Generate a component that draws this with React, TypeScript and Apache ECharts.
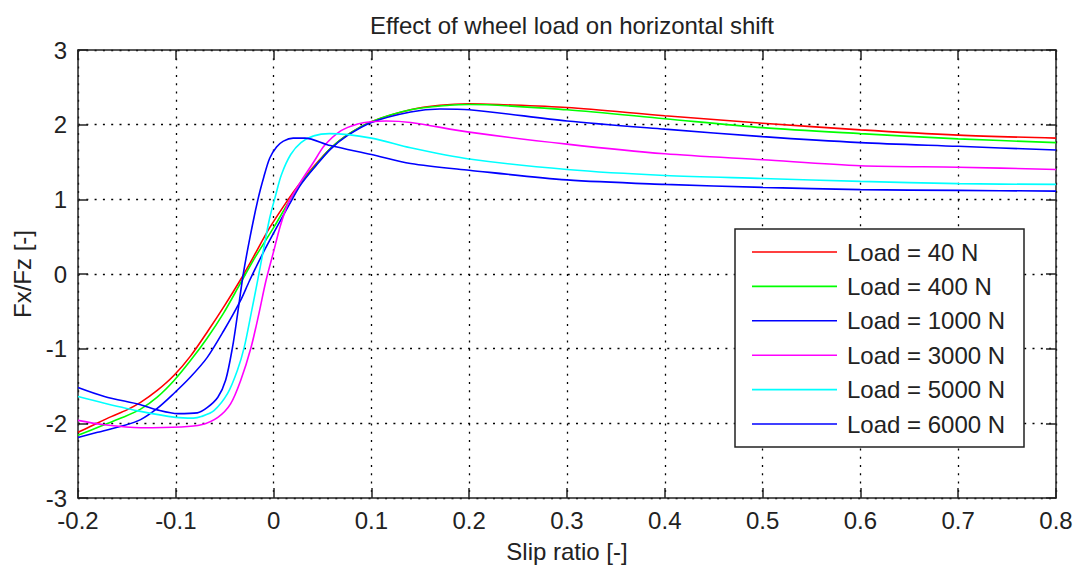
import React, { useEffect, useRef } from "react";
import * as echarts from "echarts";

// Slip ratio sample points and normalized longitudinal force Fx/Fz for each wheel load
const load40X = [-0.2, -0.187, -0.166, -0.15, -0.136, -0.119, -0.102, -0.085, -0.067, -0.05, -0.034, -0.021, -0.004, 0.015, 0.026, 0.041, 0.058, 0.075, 0.1, 0.14, 0.17, 0.2, 0.23, 0.3, 0.4, 0.5, 0.6, 0.7, 0.8];
const load40Y = [-2.12, -2.04, -1.91, -1.82, -1.72, -1.56, -1.36, -1.1, -0.76, -0.42, -0.08, 0.22, 0.62, 1.0, 1.2, 1.44, 1.68, 1.86, 2.04, 2.2, 2.26, 2.28, 2.27, 2.23, 2.12, 2.02, 1.93, 1.86, 1.82];

const load400X = [-0.2, -0.177, -0.156, -0.136, -0.119, -0.102, -0.085, -0.068, -0.051, -0.035, -0.02, 0.0, 0.017, 0.027, 0.042, 0.058, 0.075, 0.1, 0.14, 0.18, 0.2, 0.3, 0.4, 0.5, 0.6, 0.7, 0.8];
const load400Y = [-2.16, -2.04, -1.93, -1.81, -1.65, -1.43, -1.16, -0.86, -0.52, -0.15, 0.2, 0.62, 1.0, 1.2, 1.44, 1.68, 1.86, 2.04, 2.2, 2.26, 2.27, 2.2, 2.08, 1.96, 1.88, 1.81, 1.76];

const load1000X = [-0.2, -0.18, -0.153, -0.136, -0.119, -0.102, -0.085, -0.068, -0.051, -0.034, -0.025, -0.012, 0.003, 0.019, 0.028, 0.042, 0.058, 0.075, 0.1, 0.14, 0.17, 0.2, 0.3, 0.4, 0.5, 0.6, 0.7, 0.8];
const load1000Y = [-2.19, -2.12, -2.03, -1.95, -1.8, -1.6, -1.38, -1.12, -0.76, -0.36, -0.1, 0.25, 0.62, 1.0, 1.2, 1.43, 1.67, 1.85, 2.03, 2.17, 2.21, 2.2, 2.05, 1.94, 1.84, 1.76, 1.71, 1.66];

const load3000X = [-0.2, -0.173, -0.136, -0.095, -0.074, -0.057, -0.044, -0.0335, -0.023, -0.015, -0.008, 0.0, 0.007, 0.015, 0.027, 0.041, 0.052, 0.069, 0.086, 0.1, 0.115, 0.14, 0.2, 0.3, 0.4, 0.5, 0.6, 0.7, 0.8];
const load3000Y = [-1.96, -2.02, -2.06, -2.05, -2.02, -1.92, -1.74, -1.42, -0.98, -0.53, -0.1, 0.3, 0.65, 0.95, 1.22, 1.5, 1.72, 1.92, 2.01, 2.04, 2.05, 2.03, 1.9, 1.74, 1.61, 1.53, 1.45, 1.43, 1.4];

const load5000X = [-0.2, -0.173, -0.136, -0.1, -0.082, -0.074, -0.061, -0.047, -0.037, -0.03, -0.023, -0.0165, -0.01, -0.004, 0.002, 0.008, 0.0175, 0.028, 0.041, 0.057, 0.1, 0.14, 0.2, 0.3, 0.4, 0.5, 0.6, 0.7, 0.8];
const load5000Y = [-1.64, -1.73, -1.84, -1.92, -1.93, -1.91, -1.83, -1.6, -1.29, -0.98, -0.53, -0.1, 0.35, 0.75, 1.05, 1.33, 1.6, 1.76, 1.85, 1.88, 1.82, 1.69, 1.54, 1.4, 1.32, 1.28, 1.24, 1.21, 1.2];

const load6000X = [-0.2, -0.173, -0.136, -0.119, -0.098, -0.078, -0.068, -0.057, -0.049, -0.042, -0.037, -0.031, -0.024, -0.016, -0.01, -0.004, 0.003, 0.01, 0.02, 0.032, 0.058, 0.1, 0.14, 0.2, 0.3, 0.4, 0.5, 0.6, 0.7, 0.8];
const load6000Y = [-1.52, -1.64, -1.75, -1.82, -1.87, -1.86, -1.79, -1.65, -1.42, -0.98, -0.55, 0.0, 0.5, 1.0, 1.3, 1.55, 1.7, 1.78, 1.82, 1.82, 1.72, 1.6, 1.48, 1.39, 1.26, 1.2, 1.16, 1.13, 1.12, 1.11];

const seriesNames = ["Load = 40 N", "Load = 400 N", "Load = 1000 N", "Load = 3000 N", "Load = 5000 N", "Load = 6000 N"];
const seriesColors = ["#ff0000", "#00ff00", "#0000ff", "#ff00ff", "#00ffff", "#0000ff"];
const seriesX = [load40X, load400X, load1000X, load3000X, load5000X, load6000X];
const seriesY = [load40Y, load400Y, load1000Y, load3000Y, load5000Y, load6000Y];

const FONT = "'Liberation Sans', Arial, Helvetica, sans-serif";
const FS = 24;
const INK = "#222222";

export default function App() {
  const ref = useRef<HTMLDivElement>(null);

  useEffect(() => {
    if (!ref.current) return;
    const chart = echarts.init(ref.current, undefined, { renderer: "svg" });

    const xCommon = {
      type: "value" as const,
      min: -0.2,
      max: 0.8,
      interval: 0.1,
      axisLine: { show: true, onZero: false, lineStyle: { color: INK, width: 1.5 } },
      axisTick: { show: true, inside: true, length: 10, lineStyle: { color: INK, width: 1.5 } },
    };
    const yCommon = {
      type: "value" as const,
      min: -3,
      max: 3,
      interval: 1,
      axisLine: { show: true, onZero: false, lineStyle: { color: INK, width: 1.5 } },
      axisTick: { show: true, inside: true, length: 10, lineStyle: { color: INK, width: 1.5 } },
    };
    const gridLine = { show: true, lineStyle: { color: "#000", width: 1.3, type: [2, 6.3] } };

    chart.setOption({
      animation: false,
      backgroundColor: "#ffffff",
      title: {
        text: "Effect of wheel load on horizontal shift",
        left: 567,
        textAlign: "center",
        top: 8,
        textStyle: { fontFamily: FONT, fontSize: FS, fontWeight: "normal", color: INK },
      },
      grid: { left: 78, right: 22, top: 50, bottom: 69, containLabel: false },
      xAxis: [
        {
          ...xCommon,
          position: "bottom",
          name: "Slip ratio [-]",
          nameLocation: "middle",
          nameGap: 41,
          nameTextStyle: { fontFamily: FONT, fontSize: FS, color: INK },
          axisLabel: {
            margin: 12,
            fontFamily: FONT,
            fontSize: FS,
            lineHeight: 20,
            color: INK,
            formatter: (v: number) => String(Math.round(v * 10) / 10),
          },
          splitLine: gridLine,
        },
        {
          ...xCommon,
          position: "top",
          axisLabel: { show: false },
          splitLine: { show: false },
        },
      ],
      yAxis: [
        {
          ...yCommon,
          position: "left",
          name: "Fx/Fz [-]",
          nameLocation: "middle",
          nameGap: 44,
          nameTextStyle: { fontFamily: FONT, fontSize: FS, color: INK },
          axisLabel: { margin: 11, fontFamily: FONT, fontSize: FS, lineHeight: 18, color: INK },
          splitLine: gridLine,
        },
        {
          ...yCommon,
          position: "right",
          axisLabel: { show: false },
          splitLine: { show: false },
        },
      ],
      legend: {
        orient: "vertical",
        left: 752,
        top: 240,
        padding: 0,
        itemWidth: 85,
        itemHeight: 24,
        itemGap: 10.4,
        icon: "path://M0,0L85,0L85,1.6L0,1.6Z",
        textStyle: { fontFamily: FONT, fontSize: FS, color: INK, padding: [0, 0, 0, 5] },
        data: seriesNames,
        z: 10,
      },
      graphic: [
        {
          type: "rect",
          z: 5,
          shape: { x: 735, y: 229, width: 289, height: 218 },
          style: { fill: "#ffffff", stroke: INK, lineWidth: 1.5 },
        },
      ],
      series: seriesNames.map((name, i) => ({
        name,
        type: "line",
        xAxisIndex: 0,
        yAxisIndex: 0,
        symbol: "none",
        showSymbol: false,
        smooth: 0.3,
        color: seriesColors[i],
        lineStyle: { color: seriesColors[i], width: 1.6 },
        data: seriesX[i].map((x, k) => [x, seriesY[i][k]]),
      })),
    });

    return () => chart.dispose();
  }, []);

  return (
    <div
      ref={ref}
      style={{ position: "fixed", left: 0, top: 0, width: 1078, height: 568, background: "#fff" }}
    />
  );
}
